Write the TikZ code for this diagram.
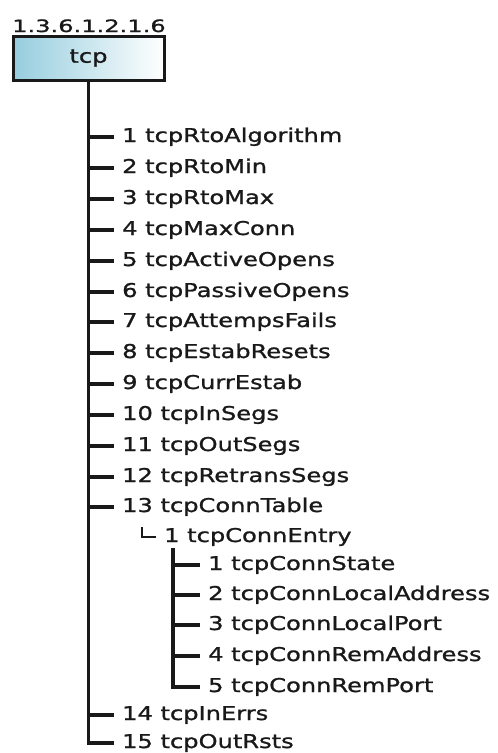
\documentclass[tikz,border=0pt]{standalone}
\usepackage{fontspec}
\setmainfont{DejaVu Sans}[FakeStretch=1.27,FakeBold=1.2]
\newfontfamily\oidfont{DejaVu Sans}[FakeStretch=1.42,FakeBold=1.2]
\usetikzlibrary{positioning}
\definecolor{boxblue}{RGB}{150,205,222}
\definecolor{ink}{RGB}{25,25,25}

\begin{document}
\begin{tikzpicture}[x=1pt,y=-1pt]
        \tikzstyle{item}=[anchor=west, inner xsep=8pt, inner ysep=0pt, text=ink,
          font=\fontsize{19}{20}\selectfont, text height=14pt, text depth=4pt]
        \tikzstyle{trunk}=[line width=3.2pt, draw=ink]
        \tikzstyle{thin}=[line width=2.2pt, draw=ink]
        \useasboundingbox (0,0) rectangle (498,753);
        % root box and its oid
        \node[draw=ink, line width=3pt, left color=boxblue, right color=white,
          minimum width=151pt, minimum height=44pt, inner sep=0pt,
          font=\fontsize{19}{20}\selectfont, text=ink] (tcp) at (88.5,58) {tcp};
        \node[anchor=base west, inner sep=0pt, text=ink,
          font=\oidfont\fontsize{17}{18}\selectfont] (oid) at (12,32) {1.3.6.1.2.1.6};
        % group members
        \node[item] (r1) at (114,137) {1 tcpRtoAlgorithm};
        \node[item] (r2) at (114,168) {2 tcpRtoMin};
        \node[item] (r3) at (114,199) {3 tcpRtoMax};
        \node[item] (r4) at (114,230) {4 tcpMaxConn};
        \node[item] (r5) at (114,261) {5 tcpActiveOpens};
        \node[item] (r6) at (114,292) {6 tcpPassiveOpens};
        \node[item] (r7) at (114,322) {7 tcpAttempsFails};
        \node[item] (r8) at (114,353) {8 tcpEstabResets};
        \node[item] (r9) at (114,384) {9 tcpCurrEstab};
        \node[item] (r10) at (114,415) {10 tcpInSegs};
        \node[item] (r11) at (114,446) {11 tcpOutSegs};
        \node[item] (r12) at (114,477) {12 tcpRetransSegs};
        \node[item] (r13) at (114,507) {13 tcpConnTable};
        \node[item] (e1) at (156,537) {1 tcpConnEntry};
        \node[item] (s1) at (200,565) {1 tcpConnState};
        \node[item] (s2) at (200,595) {2 tcpConnLocalAddress};
        \node[item] (s3) at (200,625) {3 tcpConnLocalPort};
        \node[item] (s4) at (200,656) {4 tcpConnRemAddress};
        \node[item] (s5) at (200,687) {5 tcpConnRemPort};
        \node[item] (r14) at (114,715) {14 tcpInErrs};
        \node[item] (r15) at (114,743) {15 tcpOutRsts};
        \coordinate (c13) at (142,527);
        \coordinate (c1) at (173,548);
        % connectors
        \draw[trunk] (tcp.south) |- (r15.west);
        \draw[trunk] (r1.west -| tcp.south) -- (r1.west);
        \draw[trunk] (r2.west -| tcp.south) -- (r2.west);
        \draw[trunk] (r3.west -| tcp.south) -- (r3.west);
        \draw[trunk] (r4.west -| tcp.south) -- (r4.west);
        \draw[trunk] (r5.west -| tcp.south) -- (r5.west);
        \draw[trunk] (r6.west -| tcp.south) -- (r6.west);
        \draw[trunk] (r7.west -| tcp.south) -- (r7.west);
        \draw[trunk] (r8.west -| tcp.south) -- (r8.west);
        \draw[trunk] (r9.west -| tcp.south) -- (r9.west);
        \draw[trunk] (r10.west -| tcp.south) -- (r10.west);
        \draw[trunk] (r11.west -| tcp.south) -- (r11.west);
        \draw[trunk] (r12.west -| tcp.south) -- (r12.west);
        \draw[trunk] (r13.west -| tcp.south) -- (r13.west);
        \draw[trunk] (r14.west -| tcp.south) -- (r14.west);
        \draw[thin] (c13) |- (e1.west);
        \draw[trunk] (c1) |- (s5.west);
        \draw[trunk] (s1.west -| c1) -- (s1.west);
        \draw[trunk] (s2.west -| c1) -- (s2.west);
        \draw[trunk] (s3.west -| c1) -- (s3.west);
        \draw[trunk] (s4.west -| c1) -- (s4.west);
      \end{tikzpicture}
\end{document}
